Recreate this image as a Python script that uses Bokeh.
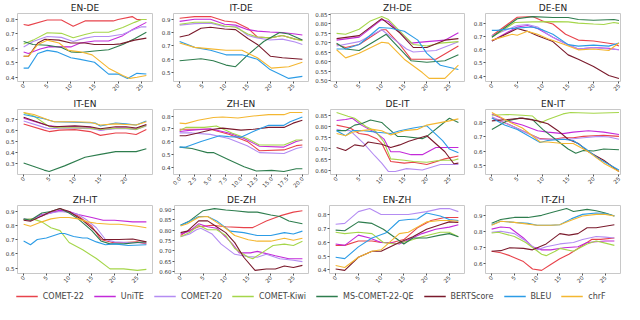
import math
import numpy as np
from bokeh.plotting import figure
from bokeh.layouts import column, row
from bokeh.models import FixedTicker, Range1d, DataRange1d, Legend, LegendItem, PrintfTickFormatter
from bokeh.embed import file_html
from bokeh.resources import INLINE

METRICS = ["COMET-22", "UniTE", "COMET-20", "COMET-Kiwi", "MS-COMET-22-QE", "BERTScore", "BLEU", "chrF"]
COLORS = {
    "COMET-22": "#e8434b", "UniTE": "#c32ad9", "COMET-20": "#b48cf2", "COMET-Kiwi": "#a5d64a",
    "MS-COMET-22-QE": "#2e7d4e", "BERTScore": "#7a1a2c", "BLEU": "#2c9ce6", "chrF": "#f4b731",
}

# ---- data: each series is ([x...], [y...]) ----
EN_DE = {
    "COMET-22": ([0, 1, 5, 8, 10.5, 13, 19, 20, 23, 24, 26], [0.765, 0.759, 0.796, 0.796, 0.753, 0.790, 0.790, 0.800, 0.820, 0.800, 0.800]),
    "UniTE": ([0, 1, 3.5, 5.5, 10, 12, 15, 18, 21, 23, 26], [0.575, 0.565, 0.596, 0.612, 0.610, 0.637, 0.651, 0.651, 0.688, 0.729, 0.780]),
    "COMET-20": ([0, 2, 5, 8, 10.5, 13, 15, 18, 21, 23.5, 25, 26], [0.610, 0.647, 0.682, 0.676, 0.647, 0.671, 0.682, 0.682, 0.698, 0.733, 0.749, 0.749]),
    "COMET-Kiwi": ([0, 2, 5, 8, 10.5, 13, 15, 18, 21, 23.5, 25, 26], [0.631, 0.657, 0.708, 0.704, 0.673, 0.696, 0.712, 0.712, 0.745, 0.780, 0.800, 0.800]),
    "MS-COMET-22-QE": ([0, 2, 5, 8, 10, 12, 15, 18, 21, 23.5, 26], [0.647, 0.627, 0.622, 0.606, 0.576, 0.571, 0.582, 0.590, 0.627, 0.667, 0.712]),
    "BERTScore": ([0, 1, 3, 4.5, 7.5, 10, 13, 15, 19, 20.5, 23.5, 26], [0.545, 0.545, 0.637, 0.663, 0.657, 0.637, 0.637, 0.627, 0.627, 0.631, 0.657, 0.671]),
    "BLEU": ([0, 1, 3, 5, 7, 10, 12, 15, 18, 20, 22, 24, 26], [0.463, 0.463, 0.565, 0.586, 0.576, 0.535, 0.524, 0.504, 0.422, 0.422, 0.392, 0.427, 0.422]),
    "chrF": ([0, 1, 3, 5, 7.5, 9.5, 12, 14.5, 18, 21, 22.5, 24, 26], [0.545, 0.545, 0.627, 0.657, 0.637, 0.586, 0.576, 0.555, 0.463, 0.412, 0.392, 0.400, 0.412]),
}
IT_DE = {
    "COMET-22": ([0, 3.3, 6.8, 9.9, 12.3, 15, 17.1, 19.9, 22.6, 25.4, 27], [0.907, 0.920, 0.920, 0.887, 0.878, 0.833, 0.767, 0.760, 0.778, 0.751, 0.744]),
    "UniTE": ([0, 3.3, 6.8, 9.9, 12.3, 15, 17.1, 19.9, 22.6, 25.4, 27], [0.884, 0.900, 0.900, 0.862, 0.856, 0.822, 0.811, 0.804, 0.800, 0.789, 0.782]),
    "COMET-20": ([0, 3.3, 6.8, 9.9, 12.3, 15, 17.1, 19.9, 22.6, 25.4, 27], [0.856, 0.867, 0.871, 0.844, 0.849, 0.778, 0.760, 0.744, 0.751, 0.729, 0.711]),
    "COMET-Kiwi": ([0, 3.3, 6.8, 9.9, 12.3, 15, 17.1, 19.9, 22.6, 25.4, 27], [0.862, 0.878, 0.878, 0.849, 0.840, 0.789, 0.767, 0.760, 0.778, 0.751, 0.738]),
    "MS-COMET-22-QE": ([0, 4.7, 7.4, 10.2, 12.3, 15, 18.5, 22, 24, 27], [0.589, 0.604, 0.589, 0.556, 0.544, 0.633, 0.733, 0.800, 0.789, 0.744]),
    "BERTScore": ([0, 2, 4.7, 6.8, 9.9, 12.3, 15, 17.1, 20, 22.6, 27], [0.767, 0.782, 0.833, 0.840, 0.827, 0.822, 0.756, 0.711, 0.622, 0.611, 0.600]),
    "BLEU": ([0, 3.3, 6.8, 10.2, 13.7, 17.1, 19.9, 24, 27], [0.733, 0.689, 0.667, 0.633, 0.633, 0.600, 0.522, 0.456, 0.471]),
    "chrF": ([0, 3.3, 6.8, 10.2, 13.7, 17.1, 20.2, 24, 27], [0.722, 0.689, 0.678, 0.667, 0.667, 0.611, 0.533, 0.544, 0.578]),
}
ZH_DE = {
    "COMET-22": ([0, 2, 5, 10, 11, 14, 16.5, 22, 27], [0.691, 0.675, 0.691, 0.769, 0.769, 0.691, 0.613, 0.613, 0.683]),
    "UniTE": ([0, 5, 10, 11.5, 16.5, 20, 24, 27], [0.714, 0.730, 0.823, 0.813, 0.698, 0.706, 0.714, 0.753]),
    "COMET-20": ([0, 5, 10, 15.5, 17, 22, 27], [0.683, 0.706, 0.769, 0.667, 0.651, 0.659, 0.706]),
    "COMET-Kiwi": ([0, 2, 5, 7.5, 10, 11.5, 15, 17, 20, 23, 27], [0.750, 0.745, 0.772, 0.816, 0.839, 0.823, 0.738, 0.691, 0.683, 0.698, 0.706]),
    "MS-COMET-22-QE": ([0, 2, 5, 11, 16.5, 20, 24, 27], [0.698, 0.667, 0.659, 0.745, 0.605, 0.597, 0.605, 0.636]),
    "BERTScore": ([0, 5, 10, 14, 17, 20, 24, 27], [0.722, 0.738, 0.828, 0.753, 0.675, 0.675, 0.714, 0.722]),
    "BLEU": ([0, 2, 5, 9.5, 12, 15, 18, 20, 23, 27], [0.667, 0.667, 0.691, 0.781, 0.777, 0.761, 0.714, 0.644, 0.581, 0.558]),
    "chrF": ([0, 2, 5, 10, 11.5, 15, 19, 20.5, 24, 27], [0.663, 0.620, 0.644, 0.703, 0.698, 0.613, 0.542, 0.511, 0.511, 0.581]),
}
DE_EN = {
    "COMET-22": ([0, 5, 8, 10, 12, 14.5, 17, 20, 24, 25], [0.705, 0.844, 0.849, 0.815, 0.793, 0.716, 0.672, 0.665, 0.643, 0.627]),
    "UniTE": ([0, 5, 7, 9, 12, 15, 17, 20, 23, 25], [0.665, 0.771, 0.782, 0.760, 0.694, 0.638, 0.605, 0.616, 0.610, 0.599]),
    "COMET-20": ([0, 5, 7, 9, 11, 13, 15, 17, 20, 23, 25], [0.705, 0.782, 0.789, 0.771, 0.716, 0.672, 0.638, 0.605, 0.616, 0.605, 0.599]),
    "COMET-Kiwi": ([0, 4.5, 8, 12, 15, 17, 20, 22, 24, 25], [0.694, 0.804, 0.809, 0.811, 0.809, 0.800, 0.793, 0.789, 0.804, 0.798]),
    "MS-COMET-22-QE": ([0, 5, 8, 12, 15, 17, 20, 24, 25], [0.694, 0.833, 0.849, 0.842, 0.842, 0.827, 0.822, 0.827, 0.820]),
    "BERTScore": ([0, 5, 7, 9, 12, 15, 17, 20, 23, 25], [0.665, 0.760, 0.738, 0.705, 0.661, 0.561, 0.528, 0.473, 0.406, 0.384]),
    "BLEU": ([0, 1, 4, 8, 10, 12, 15, 17, 20, 23, 25], [0.745, 0.745, 0.760, 0.771, 0.749, 0.716, 0.638, 0.627, 0.634, 0.627, 0.650]),
    "chrF": ([0, 4, 5, 7, 9, 11, 14, 17, 20, 23, 25], [0.672, 0.716, 0.709, 0.738, 0.716, 0.683, 0.643, 0.599, 0.605, 0.594, 0.650]),
}
IT_EN = {
    "COMET-22": ([0, 4, 5, 7, 10, 13, 15, 18, 20, 22, 24], [0.659, 0.603, 0.590, 0.603, 0.608, 0.590, 0.556, 0.577, 0.577, 0.564, 0.608]),
    "UniTE": ([0, 5, 7, 10, 13, 15, 18, 20, 22, 24], [0.710, 0.641, 0.633, 0.633, 0.628, 0.603, 0.623, 0.623, 0.615, 0.649]),
    "COMET-20": ([0, 4, 5, 8, 13, 15, 18, 20, 22, 24], [0.685, 0.628, 0.615, 0.623, 0.615, 0.603, 0.615, 0.615, 0.608, 0.641]),
    "COMET-Kiwi": ([0, 2, 5, 7, 10, 13, 15, 18, 20, 22, 24], [0.760, 0.730, 0.635, 0.625, 0.625, 0.620, 0.610, 0.620, 0.620, 0.610, 0.645]),
    "MS-COMET-22-QE": ([0, 4, 5, 8, 12, 15, 18, 20, 22, 24], [0.308, 0.244, 0.231, 0.282, 0.359, 0.385, 0.410, 0.410, 0.410, 0.436]),
    "BERTScore": ([0, 5, 6, 10, 13, 15, 18, 20, 22, 24], [0.718, 0.641, 0.633, 0.641, 0.633, 0.615, 0.633, 0.633, 0.623, 0.654]),
    "BLEU": ([0, 4, 6, 10, 14, 15, 18, 20, 22, 24], [0.744, 0.705, 0.679, 0.674, 0.667, 0.641, 0.667, 0.659, 0.649, 0.685]),
    "chrF": ([0, 2, 5, 6, 10, 13, 15, 18, 20, 22, 24], [0.762, 0.744, 0.692, 0.679, 0.679, 0.674, 0.649, 0.659, 0.654, 0.649, 0.679]),
}
ZH_EN = {
    "COMET-22": ([0, 2, 5, 8, 11, 13, 17, 19, 20], [0.697, 0.697, 0.697, 0.658, 0.603, 0.531, 0.537, 0.570, 0.575]),
    "UniTE": ([0, 2, 5, 8, 10.5, 13, 17, 19, 20], [0.680, 0.691, 0.702, 0.669, 0.625, 0.566, 0.559, 0.603, 0.614]),
    "COMET-20": ([0, 2, 5, 8, 11, 13, 17, 19, 20], [0.669, 0.669, 0.658, 0.625, 0.570, 0.516, 0.509, 0.548, 0.559]),
    "COMET-Kiwi": ([0, 1, 4, 6, 8.5, 11, 13, 17, 19, 20], [0.686, 0.712, 0.712, 0.723, 0.669, 0.625, 0.575, 0.575, 0.614, 0.614]),
    "MS-COMET-22-QE": ([0, 2, 4.5, 5.5, 8, 10.5, 12.5, 15, 17, 19, 20], [0.559, 0.548, 0.516, 0.516, 0.461, 0.406, 0.373, 0.378, 0.369, 0.391, 0.391]),
    "BERTScore": ([0, 1, 3, 5.5, 7, 10, 12, 14.5, 17, 18.5, 20], [0.647, 0.647, 0.669, 0.697, 0.706, 0.691, 0.697, 0.712, 0.712, 0.745, 0.767]),
    "BLEU": ([0, 1, 3.5, 6.5, 8, 10, 12, 14.5, 17, 18, 20], [0.559, 0.559, 0.603, 0.647, 0.640, 0.636, 0.680, 0.728, 0.728, 0.756, 0.793]),
    "chrF": ([0, 1, 3, 5.5, 7, 9.5, 12, 14.5, 17, 18, 20], [0.745, 0.741, 0.767, 0.789, 0.793, 0.785, 0.800, 0.811, 0.811, 0.828, 0.828]),
}
DE_IT = {
    "COMET-22": ([0, 3, 5, 7, 9, 10, 12, 15, 17, 20, 24, 27], [0.806, 0.793, 0.768, 0.762, 0.743, 0.724, 0.642, 0.635, 0.639, 0.629, 0.654, 0.667]),
    "UniTE": ([0, 2, 3.5, 5.5, 9, 10.5, 12, 14, 16.5, 19, 22, 27], [0.827, 0.831, 0.837, 0.806, 0.768, 0.743, 0.686, 0.686, 0.673, 0.673, 0.705, 0.705]),
    "COMET-20": ([0, 1, 3, 6, 8.5, 10, 11.5, 13, 15.5, 19, 23, 27], [0.787, 0.783, 0.781, 0.724, 0.667, 0.635, 0.597, 0.597, 0.610, 0.604, 0.629, 0.629]),
    "COMET-Kiwi": ([0, 2.5, 4, 6.5, 8.5, 10.5, 12, 15, 17, 20, 23, 26, 27], [0.863, 0.846, 0.837, 0.800, 0.781, 0.730, 0.654, 0.648, 0.642, 0.639, 0.648, 0.648, 0.654]),
    "MS-COMET-22-QE": ([0, 2, 4, 5.5, 7.5, 10, 11, 13.5, 15, 19, 20, 25, 27], [0.781, 0.781, 0.806, 0.812, 0.829, 0.818, 0.799, 0.755, 0.755, 0.745, 0.755, 0.837, 0.818]),
    "BERTScore": ([0, 2, 4, 6, 7, 10, 12, 14, 16, 20, 24, 26, 27], [0.705, 0.692, 0.717, 0.711, 0.730, 0.720, 0.705, 0.717, 0.733, 0.758, 0.686, 0.632, 0.635]),
    "BLEU": ([0, 2, 3.5, 6, 9, 12, 14, 17, 20, 23.5, 25, 27], [0.781, 0.758, 0.781, 0.781, 0.774, 0.768, 0.781, 0.793, 0.803, 0.736, 0.698, 0.682]),
    "chrF": ([0, 2, 3.5, 5.5, 8, 10, 12, 15, 18, 20, 25, 27], [0.768, 0.758, 0.774, 0.781, 0.787, 0.781, 0.762, 0.781, 0.787, 0.806, 0.825, 0.834]),
}
EN_IT = {
    "COMET-22": ([0, 3, 6, 9.5, 12, 14, 16, 18, 20, 22, 25], [0.829, 0.790, 0.742, 0.687, 0.683, 0.693, 0.693, 0.703, 0.707, 0.710, 0.703]),
    "UniTE": ([0, 3, 6, 9, 11, 14, 16, 19, 22, 25], [0.858, 0.810, 0.781, 0.742, 0.732, 0.722, 0.732, 0.742, 0.732, 0.716]),
    "COMET-20": ([0, 3, 6, 9.5, 12, 15, 18, 21, 23, 25], [0.839, 0.790, 0.742, 0.683, 0.683, 0.683, 0.693, 0.703, 0.699, 0.683]),
    "COMET-Kiwi": ([0, 3, 6, 8, 9.5, 11, 14, 15.5, 20, 25], [0.849, 0.854, 0.849, 0.843, 0.796, 0.819, 0.858, 0.868, 0.862, 0.868]),
    "MS-COMET-22-QE": ([0, 3, 5.5, 8, 10, 12.5, 15, 16.5, 18, 20, 22, 25], [0.751, 0.810, 0.829, 0.819, 0.751, 0.683, 0.616, 0.586, 0.606, 0.602, 0.616, 0.610]),
    "BERTScore": ([0, 3, 6, 9, 11, 13, 15, 17, 19, 22, 25], [0.810, 0.819, 0.829, 0.810, 0.790, 0.742, 0.683, 0.654, 0.596, 0.538, 0.460]),
    "BLEU": ([0, 2.5, 5, 9.5, 11, 14, 16, 18.5, 21, 25], [0.829, 0.781, 0.751, 0.660, 0.674, 0.683, 0.674, 0.616, 0.548, 0.470]),
    "chrF": ([0, 3, 6, 9.5, 11, 14, 16, 19, 22, 25], [0.868, 0.810, 0.761, 0.664, 0.664, 0.654, 0.654, 0.596, 0.518, 0.460]),
}
ZH_IT = {
    "COMET-22": ([0, 1.5, 4, 6, 8, 10, 12, 15, 17, 19.5, 22, 25, 27], [0.844, 0.844, 0.869, 0.894, 0.906, 0.900, 0.869, 0.796, 0.702, 0.681, 0.681, 0.685, 0.671]),
    "UniTE": ([0, 1.5, 4, 6, 8, 10, 12, 15, 17.5, 20, 24, 27], [0.844, 0.838, 0.879, 0.890, 0.910, 0.900, 0.879, 0.858, 0.838, 0.838, 0.827, 0.827]),
    "COMET-20": ([0, 2, 4, 6, 8, 10, 12, 14, 16, 18, 20, 23, 27], [0.848, 0.844, 0.873, 0.890, 0.900, 0.894, 0.879, 0.838, 0.785, 0.702, 0.685, 0.681, 0.677]),
    "COMET-Kiwi": ([0, 2, 4, 6, 8, 10, 13, 16, 19, 22, 25, 27], [0.844, 0.848, 0.827, 0.785, 0.765, 0.681, 0.629, 0.567, 0.494, 0.494, 0.483, 0.490]),
    "MS-COMET-22-QE": ([0, 1.5, 4, 6, 8, 10, 12, 15, 17, 19, 22, 25, 27], [0.848, 0.838, 0.890, 0.900, 0.921, 0.890, 0.848, 0.765, 0.692, 0.671, 0.671, 0.681, 0.685]),
    "BERTScore": ([0, 1.5, 4, 6, 8, 10, 13, 16, 17.5, 21, 24, 27], [0.838, 0.831, 0.869, 0.900, 0.921, 0.900, 0.838, 0.754, 0.702, 0.702, 0.706, 0.685]),
    "BLEU": ([0, 1.5, 3, 5, 8, 9, 11, 13, 14, 16, 18, 20, 23, 27], [0.692, 0.665, 0.702, 0.713, 0.744, 0.744, 0.723, 0.713, 0.713, 0.685, 0.665, 0.671, 0.660, 0.665]),
    "chrF": ([0, 1.5, 4, 6, 8, 10, 12, 14, 16, 19, 21, 25, 27], [0.810, 0.796, 0.827, 0.848, 0.858, 0.858, 0.848, 0.827, 0.817, 0.810, 0.810, 0.796, 0.785]),
}
DE_ZH = {
    "COMET-22": ([0, 1.5, 4, 7, 10, 14, 16, 19, 22, 25, 27], [0.774, 0.795, 0.816, 0.823, 0.816, 0.812, 0.812, 0.844, 0.868, 0.886, 0.893]),
    "UniTE": ([0, 2, 4, 6, 8, 10, 11.5, 13, 15.5, 17, 21, 24, 27], [0.781, 0.795, 0.830, 0.816, 0.809, 0.767, 0.733, 0.691, 0.691, 0.698, 0.677, 0.663, 0.663]),
    "COMET-20": ([0, 2, 3.5, 4.5, 7, 9, 12, 15, 17, 19, 22, 25, 27], [0.768, 0.781, 0.802, 0.809, 0.781, 0.733, 0.684, 0.673, 0.670, 0.684, 0.663, 0.656, 0.649]),
    "COMET-Kiwi": ([0, 2, 4, 6, 8, 10, 12, 15, 16, 18, 20.5, 23, 25, 27], [0.768, 0.788, 0.823, 0.802, 0.802, 0.774, 0.712, 0.670, 0.663, 0.691, 0.726, 0.733, 0.726, 0.747]),
    "MS-COMET-22-QE": ([0, 2, 5, 7.5, 10, 12, 15, 17, 20, 22, 24, 27], [0.823, 0.844, 0.893, 0.903, 0.896, 0.893, 0.886, 0.886, 0.872, 0.865, 0.844, 0.830]),
    "BERTScore": ([0, 1.5, 4, 6, 8, 10, 12, 14, 16.5, 19, 21, 23, 25, 27], [0.788, 0.795, 0.844, 0.844, 0.816, 0.788, 0.740, 0.670, 0.607, 0.614, 0.614, 0.628, 0.621, 0.631]),
    "BLEU": ([0, 1.5, 4, 6, 8, 11, 14, 17, 20, 23, 25, 27], [0.823, 0.837, 0.865, 0.865, 0.844, 0.795, 0.788, 0.774, 0.774, 0.788, 0.781, 0.795]),
    "chrF": ([0, 1.5, 4, 6, 8, 10, 12, 15, 17, 20, 23, 25, 27], [0.820, 0.830, 0.862, 0.865, 0.837, 0.809, 0.774, 0.754, 0.747, 0.747, 0.761, 0.751, 0.761]),
}
EN_ZH = {
    "COMET-22": ([0, 2, 5, 8, 10, 12, 15, 18, 21, 24, 27], [0.577, 0.577, 0.609, 0.609, 0.598, 0.594, 0.619, 0.704, 0.757, 0.779, 0.779]),
    "UniTE": ([0, 2, 5, 7.5, 10, 12, 14, 19, 22, 25, 27], [0.587, 0.577, 0.651, 0.630, 0.598, 0.598, 0.587, 0.662, 0.694, 0.709, 0.726]),
    "COMET-20": ([0, 2, 5, 7.5, 10, 13, 16, 20, 23, 25, 27], [0.730, 0.736, 0.821, 0.843, 0.800, 0.800, 0.800, 0.821, 0.843, 0.843, 0.821]),
    "COMET-Kiwi": ([0, 2, 5, 8, 10.5, 13, 16, 19, 23, 25, 27], [0.672, 0.662, 0.672, 0.662, 0.598, 0.587, 0.609, 0.640, 0.672, 0.672, 0.640]),
    "MS-COMET-22-QE": ([0, 2, 5, 8, 10.5, 15, 17, 20, 23, 25, 27], [0.687, 0.683, 0.747, 0.736, 0.694, 0.587, 0.630, 0.630, 0.651, 0.662, 0.640]),
    "BERTScore": ([0, 2, 5, 8, 10, 14, 17, 20, 23, 25, 27], [0.406, 0.396, 0.491, 0.534, 0.534, 0.598, 0.640, 0.694, 0.726, 0.747, 0.743]),
    "BLEU": ([0, 2, 5, 8, 11, 14, 16, 18, 20, 23, 25, 27], [0.491, 0.481, 0.566, 0.630, 0.666, 0.757, 0.764, 0.768, 0.811, 0.789, 0.764, 0.757]),
    "chrF": ([0, 2, 5, 8, 10, 14, 16, 20, 23, 25, 27], [0.432, 0.417, 0.491, 0.534, 0.545, 0.662, 0.672, 0.747, 0.757, 0.757, 0.751]),
}
IT_ZH = {
    "COMET-22": ([0, 2, 4, 7, 9, 11, 13, 15, 17, 19, 22, 24, 27], [0.676, 0.667, 0.649, 0.612, 0.566, 0.557, 0.594, 0.630, 0.658, 0.694, 0.750, 0.750, 0.759]),
    "UniTE": ([0, 2, 4, 7, 9, 11, 13, 16, 19, 21, 25, 27], [0.814, 0.827, 0.823, 0.759, 0.704, 0.685, 0.685, 0.698, 0.704, 0.731, 0.740, 0.740]),
    "COMET-20": ([0, 2, 5, 7, 10, 12, 15, 18, 20, 23, 25, 27], [0.795, 0.801, 0.786, 0.750, 0.685, 0.704, 0.722, 0.731, 0.750, 0.768, 0.764, 0.759]),
    "COMET-Kiwi": ([0, 1.5, 5, 7.5, 11, 12, 14, 15, 18, 21, 23, 25, 27], [0.790, 0.795, 0.768, 0.731, 0.658, 0.649, 0.676, 0.694, 0.676, 0.722, 0.740, 0.727, 0.713]),
    "MS-COMET-22-QE": ([0, 2, 5, 8, 11, 14, 16.5, 18, 21, 23, 25, 27], [0.850, 0.874, 0.887, 0.887, 0.900, 0.924, 0.942, 0.924, 0.937, 0.929, 0.915, 0.896]),
    "BERTScore": ([0, 2, 4, 7, 9, 12, 15, 17, 19, 21, 23, 27], [0.676, 0.680, 0.698, 0.694, 0.685, 0.722, 0.786, 0.777, 0.786, 0.823, 0.823, 0.841]),
    "BLEU": ([0, 2, 5, 8, 10, 13, 15, 17.5, 20, 23, 25, 27], [0.841, 0.863, 0.856, 0.850, 0.838, 0.838, 0.841, 0.878, 0.906, 0.915, 0.911, 0.896]),
    "chrF": ([0, 2, 5, 8, 10, 13, 15, 17.5, 20, 23, 25, 27], [0.838, 0.863, 0.856, 0.845, 0.838, 0.838, 0.841, 0.869, 0.896, 0.906, 0.906, 0.896]),
}

PANELS = [
    ("EN-DE", EN_DE), ("IT-DE", IT_DE), ("ZH-DE", ZH_DE), ("DE-EN", DE_EN),
    ("IT-EN", IT_EN), ("ZH-EN", ZH_EN), ("DE-IT", DE_IT), ("EN-IT", EN_IT),
    ("ZH-IT", ZH_IT), ("DE-ZH", DE_ZH), ("EN-ZH", EN_ZH), ("IT-ZH", IT_ZH),
]
Y_TICKS = {
    "EN-DE": [0.4, 0.5, 0.6, 0.7, 0.8],
    "IT-DE": [0.5, 0.6, 0.7, 0.8, 0.9],
    "ZH-DE": [0.50, 0.55, 0.60, 0.65, 0.70, 0.75, 0.80, 0.85],
    "DE-EN": [0.4, 0.5, 0.6, 0.7, 0.8],
    "IT-EN": [0.3, 0.4, 0.5, 0.6, 0.7],
    "ZH-EN": [0.4, 0.5, 0.6, 0.7, 0.8],
    "DE-IT": [0.60, 0.65, 0.70, 0.75, 0.80, 0.85],
    "EN-IT": [0.5, 0.6, 0.7, 0.8],
    "ZH-IT": [0.5, 0.6, 0.7, 0.8, 0.9],
    "DE-ZH": [0.60, 0.65, 0.70, 0.75, 0.80, 0.85, 0.90],
    "EN-ZH": [0.4, 0.5, 0.6, 0.7, 0.8],
    "IT-ZH": [0.6, 0.7, 0.8, 0.9],
}
Y_FMT_2DP = ["ZH-DE", "DE-IT", "DE-ZH"]
X_TICKS_DEFAULT = [0, 5, 10, 15, 20, 25]
X_TICKS = {
    "IT-EN": [0, 5, 10, 15, 20],
    "ZH-EN": [0.0, 2.5, 5.0, 7.5, 10.0, 12.5, 15.0, 17.5, 20.0],
}
X_FMT_1DP = ["ZH-EN"]

FONT = "DejaVu Sans"
figs = []
for name, data in PANELS:
    if name in ("DE-EN", "EN-IT"):
        xr = Range1d(-1.25, 25.3)
    else:
        xr = DataRange1d(range_padding=0.1)
    p = figure(width=156, height=96, title=name, toolbar_location=None, output_backend="svg",
               x_range=xr, y_range=DataRange1d(range_padding=0.1),
               min_border_left=17, min_border_right=4, min_border_top=0, min_border_bottom=15)
    p.title.align = "center"
    p.title.text_font = FONT
    p.title.text_font_size = "9px"
    p.title.text_font_style = "normal"
    p.title.text_color = "#222222"
    p.title.standoff = 1
    p.grid.visible = False
    p.outline_line_color = "#c8c8c8"
    p.background_fill_color = "white"
    for ax in (p.xaxis[0], p.yaxis[0]):
        ax.axis_line_color = None
        ax.major_tick_line_color = "#555555"
        ax.major_tick_out = 2
        ax.major_tick_in = 0
        ax.minor_tick_line_color = None
        ax.major_label_text_font = FONT
        ax.major_label_text_font_size = "5.5px"
        ax.major_label_text_color = "#333333"
        ax.major_label_standoff = 1
    p.yaxis.ticker = FixedTicker(ticks=Y_TICKS[name])
    p.yaxis.formatter = PrintfTickFormatter(format="%.2f" if name in Y_FMT_2DP else "%.1f")
    p.xaxis.ticker = FixedTicker(ticks=X_TICKS.get(name, X_TICKS_DEFAULT))
    p.xaxis.formatter = PrintfTickFormatter(format="%.1f" if name in X_FMT_1DP else "%d")
    p.xaxis.major_label_orientation = math.pi / 4
    for m in METRICS:
        xs, ys = data[m]
        p.line(xs, ys, line_color=COLORS[m], line_width=1.1)
    figs.append(p)

grid = column(*[row(*figs[r * 4:(r + 1) * 4]) for r in range(3)])

# legend strip: one renderer per metric (no visible data), legend draws the samples
lp = figure(width=624, height=16, toolbar_location=None, output_backend="svg",
            x_range=Range1d(0, 1), y_range=Range1d(0, 1), min_border=0)
lp.axis.visible = False
lp.grid.visible = False
lp.outline_line_color = None
items = []
for m in METRICS:
    r = lp.line(x=np.array([np.nan]), y=np.array([np.nan]), line_color=COLORS[m], line_width=1.5)
    items.append(LegendItem(label=m, renderers=[r]))
leg = Legend(items=items, orientation="horizontal", location="center", spacing=10,
             glyph_width=22, glyph_height=10, label_standoff=5, label_text_font=FONT,
             label_text_font_size="8px", label_height=10, border_line_color=None,
             background_fill_alpha=0, padding=0, margin=0)
lp.add_layout(leg, "center")

layout = column(grid, lp)
open("out.html", "w").write(file_html(layout, INLINE))
